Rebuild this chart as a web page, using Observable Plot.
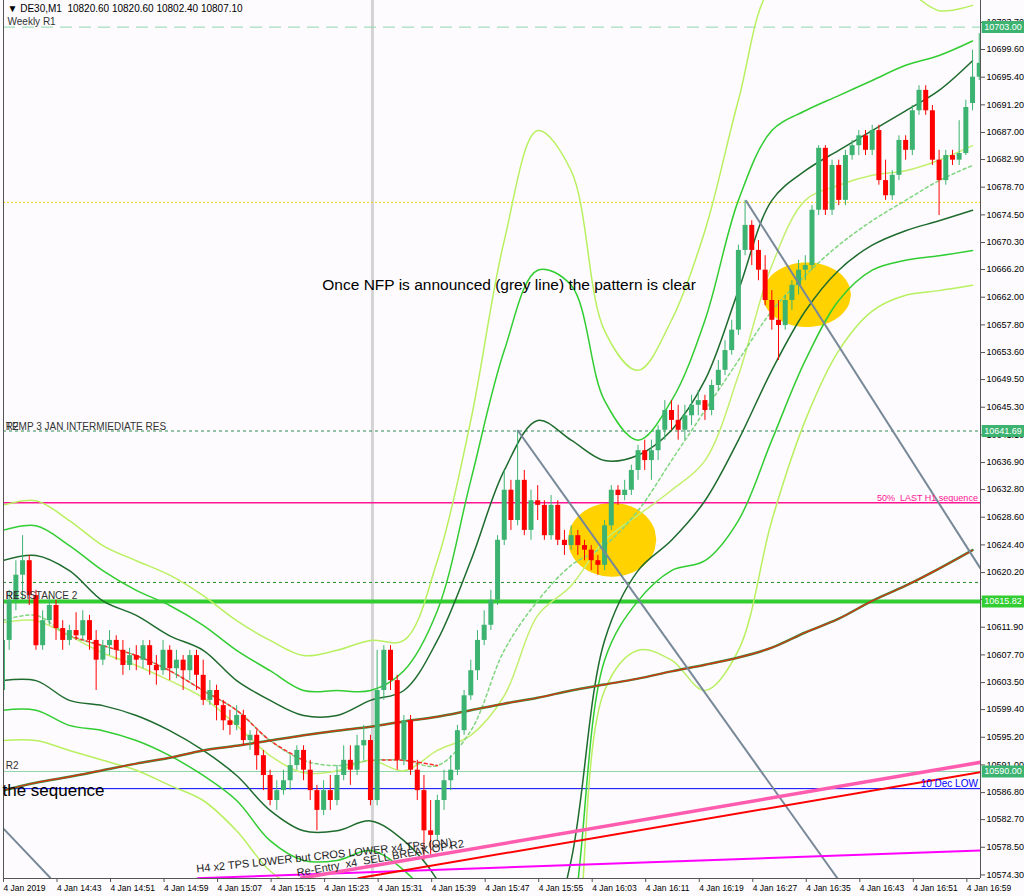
<!DOCTYPE html>
<html><head><meta charset="utf-8">
<script src="https://cdn.jsdelivr.net/npm/d3@7"></script>
<script src="https://cdn.jsdelivr.net/npm/@observablehq/plot@0.6"></script>
<style>
body{margin:0;background:#fdfbfd;}
#chart svg text{font-family:"Liberation Sans",Arial,sans-serif;}
</style></head><body><div id="chart"></div>
<script>
// ---------- DATA ----------
const headerText = "\u25BC DE30,M1  10820.60 10820.60 10802.40 10807.10";
const xTickIndex = [0,8,16,24,32,40,48,56,64,72,80,88,96,104,112,120,128,136,144];
const xTickLabels = ["4 Jan 2019","4 Jan 14:43","4 Jan 14:51","4 Jan 14:59","4 Jan 15:07","4 Jan 15:15","4 Jan 15:23","4 Jan 15:31","4 Jan 15:39","4 Jan 15:47","4 Jan 15:55","4 Jan 16:03","4 Jan 16:11","4 Jan 16:19","4 Jan 16:27","4 Jan 16:35","4 Jan 16:43","4 Jan 16:51","4 Jan 16:59"];
const yTicks = [10574.30,10578.50,10582.70,10586.80,10591.00,10595.20,10599.40,10603.50,10607.70,10611.90,10616.10,10620.20,10624.40,10628.60,10632.80,10636.90,10641.10,10645.30,10649.50,10653.60,10657.80,10662.00,10666.20,10670.30,10674.50,10678.70,10682.90,10687.00,10691.20,10695.40,10699.60,10703.70];

const opens = [10602.3,10609.9,10616.0,10619.8,10622.0,10616.7,10609.1,10612.9,10615.2,10611.7,10609.9,10611.4,10610.6,10612.9,10609.9,10606.9,10609.1,10609.9,10608.4,10606.1,10607.6,10606.9,10609.1,10606.1,10605.3,10608.4,10605.6,10606.9,10605.3,10607.6,10604.6,10600.8,10602.3,10600.0,10597.7,10597.0,10598.5,10594.7,10595.5,10592.4,10589.4,10585.6,10587.1,10588.6,10590.9,10593.2,10590.2,10587.1,10584.1,10587.1,10585.6,10589.4,10591.7,10590.2,10593.9,10594.7,10585.6,10602.3,10608.4,10603.8,10591.7,10597.7,10590.2,10587.1,10581.0,10580.3,10585.6,10588.6,10590.2,10596.2,10601.5,10605.3,10609.9,10612.2,10616.0,10625.1,10632.7,10628.1,10634.2,10626.6,10631.1,10630.4,10625.8,10630.4,10625.1,10624.3,10625.8,10624.3,10623.6,10622.0,10621.3,10627.3,10632.7,10631.9,10632.7,10635.7,10638.7,10637.2,10638.7,10641.8,10644.8,10643.3,10641.8,10644.0,10645.6,10646.3,10644.8,10648.6,10650.9,10653.9,10657.0,10669.1,10672.9,10669.1,10666.1,10661.5,10658.5,10657.7,10661.5,10663.8,10666.1,10666.8,10675.2,10684.6,10675.2,10682.0,10676.7,10683.5,10685.0,10686.5,10684.3,10687.3,10679.7,10677.4,10680.5,10685.8,10684.3,10690.3,10693.4,10690.3,10682.8,10679.7,10683.5,10682.8,10683.8,10691.4,10695.4];
const highs = [10612.9,10617.5,10622.0,10625.8,10622.8,10617.5,10614.4,10616.7,10616.0,10612.9,10612.2,10614.1,10614.4,10613.7,10611.4,10609.9,10611.4,10610.6,10609.9,10608.7,10609.1,10609.9,10609.9,10607.6,10609.9,10609.1,10608.4,10607.6,10608.4,10608.4,10606.9,10603.8,10603.1,10600.8,10599.3,10600.0,10599.3,10596.2,10596.2,10593.2,10590.2,10588.6,10590.2,10592.4,10593.9,10593.9,10591.7,10587.9,10588.6,10589.4,10590.9,10593.9,10593.9,10595.5,10597.0,10595.5,10608.4,10609.1,10609.1,10604.6,10598.5,10598.5,10591.7,10589.4,10585.6,10586.4,10590.2,10592.4,10597.0,10602.3,10606.9,10611.4,10614.4,10617.5,10625.8,10635.7,10634.2,10641.8,10635.7,10632.7,10633.4,10631.1,10631.9,10631.1,10626.6,10627.3,10626.6,10625.1,10624.3,10622.8,10628.1,10633.4,10633.4,10634.2,10636.5,10639.5,10640.3,10640.3,10642.5,10646.3,10646.3,10645.6,10645.6,10647.1,10647.8,10647.1,10649.4,10652.4,10655.4,10658.5,10669.9,10676.7,10673.6,10670.6,10668.3,10663.0,10661.5,10662.3,10664.5,10667.6,10668.3,10675.9,10685.0,10685.0,10682.8,10682.8,10684.3,10685.8,10687.3,10687.3,10688.1,10688.1,10682.8,10681.2,10686.5,10686.5,10691.1,10694.1,10694.1,10691.1,10684.3,10684.3,10684.3,10688.8,10691.9,10699.5,10702.0];
const lows = [10600.8,10608.4,10614.4,10616.0,10615.2,10608.4,10608.4,10612.2,10609.9,10608.4,10609.1,10609.9,10609.9,10608.4,10602.3,10606.1,10607.6,10606.9,10604.6,10605.3,10605.3,10605.6,10604.6,10603.1,10604.6,10603.8,10604.1,10602.3,10603.8,10602.3,10600.0,10600.0,10597.7,10596.2,10595.5,10596.2,10593.9,10593.2,10590.2,10587.1,10584.8,10584.1,10586.4,10587.1,10590.2,10588.6,10585.6,10581.0,10583.3,10584.1,10584.8,10588.6,10587.9,10589.4,10591.7,10584.8,10584.8,10600.8,10602.3,10590.2,10590.9,10589.4,10585.6,10576.5,10577.3,10579.5,10584.1,10587.1,10589.4,10595.5,10600.8,10603.8,10609.1,10611.4,10615.2,10624.3,10626.6,10627.3,10625.8,10625.1,10628.1,10625.1,10625.1,10624.3,10622.8,10623.6,10622.8,10622.0,10620.5,10619.8,10620.5,10626.6,10630.4,10631.1,10631.9,10634.2,10635.7,10634.2,10637.2,10640.3,10641.8,10640.3,10640.3,10642.5,10644.0,10643.3,10644.0,10647.8,10650.1,10653.2,10656.2,10668.3,10666.8,10664.5,10660.7,10657.0,10652.4,10657.0,10660.0,10662.3,10664.5,10666.1,10674.4,10674.4,10674.4,10675.9,10675.9,10682.8,10683.5,10683.5,10683.5,10679.0,10676.7,10676.7,10679.7,10682.8,10683.5,10689.6,10689.6,10682.0,10674.4,10679.0,10682.0,10682.0,10683.5,10690.3,10694.9];
const closes = [10609.9,10616.0,10619.8,10622.0,10616.7,10609.1,10612.9,10615.2,10611.7,10609.9,10611.4,10610.6,10612.9,10609.9,10606.9,10609.1,10609.9,10608.4,10606.1,10607.6,10606.9,10609.1,10606.1,10605.3,10608.4,10605.6,10606.9,10605.3,10607.6,10604.6,10600.8,10602.3,10600.0,10597.7,10597.0,10598.5,10594.7,10595.5,10592.4,10589.4,10585.6,10587.1,10588.6,10590.9,10593.2,10590.2,10587.1,10584.1,10587.1,10585.6,10589.4,10591.7,10590.2,10593.9,10594.7,10585.6,10602.3,10608.4,10603.8,10591.7,10597.7,10590.2,10587.1,10581.0,10580.3,10585.6,10588.6,10590.2,10596.2,10601.5,10605.3,10609.9,10612.2,10616.0,10625.1,10632.7,10628.1,10634.2,10626.6,10631.1,10630.4,10625.8,10630.4,10625.1,10624.3,10625.8,10624.3,10623.6,10622.0,10621.3,10627.3,10632.7,10631.9,10632.7,10635.7,10638.7,10637.2,10638.7,10641.8,10644.8,10643.3,10641.8,10644.0,10645.6,10646.3,10644.8,10648.6,10650.9,10653.9,10657.0,10669.1,10672.9,10669.1,10666.1,10661.5,10658.5,10657.7,10661.5,10663.8,10666.1,10666.8,10675.2,10684.6,10675.2,10682.0,10676.7,10683.5,10685.0,10686.5,10684.3,10687.3,10679.7,10677.4,10680.5,10685.8,10684.3,10690.3,10693.4,10690.3,10682.8,10679.7,10683.5,10682.8,10683.8,10690.8,10695.4,10697.5];

// band samples every 5 minutes (index 0,5,...,145)
const bandIndex = [0,5,10,15,20,25,30,35,40,45,50,55,60,65,70,75,80,85,90,95,100,105,110,115,120,125,130,135,140,145];
const upperOuter = [10630.4,10631.1,10628.1,10624.3,10622.0,10619.8,10616.7,10612.9,10609.9,10607.6,10608.4,10609.9,10609.9,10622.0,10643.3,10670.6,10687.3,10681.2,10656.9,10650.9,10658.5,10672.1,10691.9,10709.0,10710.0,10710.8,10710.0,10708.6,10705.5,10706.3];
const upperMid = [10626.6,10627.3,10624.3,10620.5,10617.5,10615.2,10612.2,10608.4,10605.3,10602.3,10602.3,10602.3,10605.3,10614.4,10634.2,10653.9,10666.1,10663.8,10646.3,10640.3,10646.3,10658.5,10676.7,10687.3,10690.3,10692.6,10694.9,10697.2,10698.7,10700.9];
const upperInner = [10622.0,10622.8,10620.5,10615.9,10613.7,10610.6,10608.4,10603.8,10600.8,10598.5,10598.5,10600.8,10602.3,10609.9,10622.0,10635.7,10643.3,10640.3,10637.2,10638.0,10641.8,10649.4,10663.0,10676.7,10681.2,10684.3,10687.3,10690.3,10693.4,10697.9];
const centerLine = [10612.6,10612.9,10610.6,10608.0,10606.1,10603.8,10601.2,10597.0,10592.4,10589.8,10590.1,10591.7,10590.1,10593.2,10595.5,10601.5,10613.7,10618.2,10625.1,10628.9,10632.7,10637.2,10650.1,10666.8,10676.7,10679.0,10680.5,10681.2,10682.8,10685.0];
const basis = [10612.9,10613.7,10610.6,10609.1,10607.6,10605.3,10602.3,10599.3,10594.7,10591.7,10590.9,10591.7,10591.7,10590.9,10596.2,10608.4,10615.9,10621.3,10624.3,10629.6,10637.2,10644.8,10652.4,10659.9,10665.3,10669.9,10673.6,10676.7,10679.7,10682.0];
const lowerInner = [10603.8,10603.8,10600.8,10600.0,10598.5,10596.2,10593.2,10589.4,10584.1,10581.0,10581.0,10582.5,10579.5,10573.5,10561.3,10547.7,10558.3,10576.5,10609.9,10620.5,10625.1,10631.1,10640.3,10650.9,10659.9,10666.1,10669.9,10672.1,10673.6,10675.2];
const lowerMid = [10599.3,10599.3,10597.0,10596.2,10594.7,10592.4,10589.4,10585.6,10579.5,10576.5,10576.5,10578.0,10575.0,10568.9,10555.2,10540.1,10547.7,10565.9,10606.9,10615.9,10620.5,10622.0,10628.1,10640.3,10652.4,10661.5,10666.1,10667.6,10668.3,10669.1];
const lowerOuter = [10594.7,10594.7,10593.2,10591.7,10590.2,10587.9,10585.6,10581.0,10574.9,10571.9,10571.9,10573.4,10570.4,10564.4,10547.7,10532.5,10540.1,10555.3,10602.3,10608.4,10606.9,10602.3,10608.4,10628.1,10643.3,10653.9,10659.9,10662.3,10663.0,10663.8];
const slowMA = [10587.1,10588.3,10589.2,10590.2,10591.2,10592.1,10593.2,10593.9,10594.7,10595.5,10596.2,10596.8,10597.6,10598.3,10599.3,10600.3,10601.2,10602.3,10603.2,10604.1,10605.2,10606.2,10607.3,10608.8,10611.1,10613.2,10615.9,10618.2,10620.8,10623.6];
// stretches of the middle line that are falling (drawn red)
const basisFalling = [[2,9],[11,13]];

// horizontal levels
const weeklyR1 = 10703.00;
const yellowLevel = 10676.4;
const tempRes = 10641.69;
const h1Fifty = 10630.8;
const greenDashLevel = 10618.7;
const resistance2 = 10615.82;
const r2Level = 10590.00;
const decLow = 10587.4;
const nfpIndex = 55.3;

// trend lines [x1,y1,x2,y2] in (minute index, price)
const trendGrey = [[77.0,10641.8,124.8,10573.8],[111.1,10676.7,146.2,10620.8],[-0.3,10581.8,7.2,10573.8]];
const trendPink = [44.5,10573.8,146.2,10591.4];
const trendRed = [53.1,10573.8,146.2,10589.9];
const trendMagenta = [29.1,10573.8,146.2,10578.0];

// highlight ellipses: centre index, centre price, half-width (minutes), half-height (price)
const ellipses = [[91.2,10625.1,6.6,5.6],[120.3,10662.3,6.6,4.9]];

// ---------- BUILD ----------
const candles = closes.map((c,i)=>({i,o:opens[i],h:highs[i],l:lows[i],c,up:c>=opens[i]}));
const bandRows = (arr)=>bandIndex.map((x,k)=>({x,y:arr[k]}));
const basisRed = basisFalling.map(([a,b],s)=>d3.range(a,b+1).map(k=>({s,x:bandIndex[k],y:basis[k]}))).flat();
const ellipseRows = ellipses.map(([cx,cy,rx,ry],e)=>d3.range(0,61).map(k=>{
  const t=-1+2*k/60; const dy=ry*Math.sqrt(Math.max(0,1-t*t));
  return {e,x:cx+rx*t,y1:cy-dy,y2:cy+dy};
})).flat();
const seg = (s,extra)=>Plot.link([s],{x1:d=>d[0],y1:d=>d[1],x2:d=>d[2],y2:d=>d[3],clip:true,...extra});
const boxes = [
  {v:weeklyR1,t:"10703.00",fill:"#3cb371"},
  {v:tempRes,t:"10641.69",fill:"#3cb371"},
  {v:resistance2,t:"10615.82",fill:"#32cd32"},
  {v:r2Level,t:"10590.00",fill:"#3cb371"}
];
const fmt = d3.format(".2f");
const labelOf = i => xTickLabels[xTickIndex.indexOf(i)];
const hasAxisMarks = typeof Plot.axisX === "function";

const marks = [
  Plot.areaY(ellipseRows,{x:"x",y1:"y1",y2:"y2",z:"e",fill:"#ffd200",curve:"linear",clip:true}),
  Plot.ruleX([nfpIndex],{stroke:"#d4d4d4",strokeWidth:3}),
  Plot.ruleY([weeklyR1],{stroke:"#8fd6b0",strokeDasharray:"12,7",strokeWidth:1}),
  Plot.ruleY([yellowLevel],{stroke:"#f2d200",strokeDasharray:"2,2"}),
  Plot.ruleY([tempRes],{stroke:"#2e8b57",strokeDasharray:"3,3"}),
  Plot.ruleY([h1Fifty],{stroke:"#ff1493",strokeWidth:1.5}),
  Plot.ruleY([greenDashLevel],{stroke:"#228b22",strokeDasharray:"3,3"}),
  Plot.ruleY([resistance2],{stroke:"#32cd32",strokeWidth:4}),
  Plot.ruleY([r2Level],{stroke:"#8fd6a8",strokeWidth:1.2}),
  Plot.ruleY([decLow],{stroke:"#0000ff",strokeWidth:1}),
  // bands
  Plot.line(bandRows(upperOuter),{x:"x",y:"y",stroke:"#b8f060",curve:"catmull-rom",clip:true}),
  Plot.line(bandRows(upperMid),{x:"x",y:"y",stroke:"#32cd32",curve:"catmull-rom",clip:true}),
  Plot.line(bandRows(upperInner),{x:"x",y:"y",stroke:"#1e6b2e",curve:"catmull-rom",clip:true}),
  Plot.line(bandRows(lowerInner),{x:"x",y:"y",stroke:"#1e6b2e",curve:"catmull-rom",clip:true}),
  Plot.line(bandRows(lowerMid),{x:"x",y:"y",stroke:"#32cd32",curve:"catmull-rom",clip:true}),
  Plot.line(bandRows(lowerOuter),{x:"x",y:"y",stroke:"#b8f060",curve:"catmull-rom",clip:true}),
  Plot.line(bandRows(centerLine),{x:"x",y:"y",stroke:"#c4f070",curve:"catmull-rom",clip:true}),
  Plot.line(bandRows(basis),{x:"x",y:"y",stroke:"#7fd67f",strokeDasharray:"3,3",curve:"catmull-rom",clip:true}),
  Plot.line(basisRed,{x:"x",y:"y",z:"s",stroke:"#ff3030",strokeDasharray:"3,3",curve:"catmull-rom",clip:true}),
  Plot.line(bandRows(slowMA),{x:"x",y:"y",stroke:"#3a8a3a",strokeWidth:2.5,curve:"catmull-rom",clip:true}),
  Plot.line(bandRows(slowMA),{x:"x",y:"y",stroke:"#e03010",strokeWidth:1.2,curve:"catmull-rom",clip:true}),
  // candles
  Plot.ruleX(candles,{x:"i",y1:"l",y2:"h",stroke:d=>d.up?"#3cb371":"#ff0000",strokeWidth:1,clip:true}),
  Plot.ruleX(candles,{x:"i",y1:"o",y2:"c",stroke:d=>d.up?"#3cb371":"#ff0000",strokeWidth:5,clip:true}),
  // trend lines
  ...trendGrey.map(s=>seg(s,{stroke:"#778899",strokeWidth:2})),
  seg(trendMagenta,{stroke:"#ff00ff",strokeWidth:2}),
  seg(trendRed,{stroke:"#ff0000",strokeWidth:2}),
  seg(trendPink,{stroke:"#ff5cb0",strokeWidth:3.5}),
  // frame lines
  Plot.ruleX([0.15],{stroke:"#555"}),
  Plot.ruleX([146.19],{stroke:"#555"}),
  Plot.ruleY([10573.76],{stroke:"#555"}),
  // texts
  Plot.text([headerText],{frameAnchor:"top-left",dx:4,dy:4,text:d=>d,fontSize:10,fill:"#000"}),
  Plot.text(["Weekly R1"],{frameAnchor:"top-left",dx:4,dy:17,text:d=>d,fontSize:10,fill:"#333"}),
  Plot.text([{x:0.5,y:10642.4,t:"R2"},{x:0.5,y:10642.4,t:"TEMP 3 JAN INTERMIEDIATE RES"}],{x:"x",y:"y",text:"t",textAnchor:"start",fontSize:10,fill:"#333"}),
  Plot.text([{x:0.5,y:10616.7,t:"R1"},{x:0.5,y:10616.7,t:"RESISTANCE 2"}],{x:"x",y:"y",text:"t",textAnchor:"start",fontSize:10,fill:"#333"}),
  Plot.text([{x:0.5,y:10590.8,t:"R2"}],{x:"x",y:"y",text:"t",textAnchor:"start",fontSize:10,fill:"#333"}),
  Plot.text([{x:145.8,y:10631.5,t:"50%  LAST H1 sequence"}],{x:"x",y:"y",text:"t",textAnchor:"end",fontSize:9,fill:"#ff1493"}),
  Plot.text([{x:145.8,y:10588.1,t:"10 Dec LOW"}],{x:"x",y:"y",text:"t",textAnchor:"end",fontSize:10,fill:"#0000ff"}),
  Plot.text([{x:0,y:10587.1,t:"the sequence"}],{x:"x",y:"y",text:"t",textAnchor:"start",fontSize:17,fill:"#000"}),
  Plot.text([{x:47.8,y:10663.9,t:"Once NFP is announced (grey line) the pattern is clear"}],{x:"x",y:"y",text:"t",textAnchor:"start",fontSize:15.5,fill:"#000"}),
  Plot.text([{x:29.0,y:10575.2,t:"H4 x2 TPS LOWER but CROS LOWER x4 TPs (ON)"}],{x:"x",y:"y",text:"t",textAnchor:"start",fontSize:11,rotate:-6,fill:"#222"}),
  Plot.text([{x:44.0,y:10574.6,t:"Re-Entry  x4  SELL BREAK OF R2"}],{x:"x",y:"y",text:"t",textAnchor:"start",fontSize:11,rotate:-10,fill:"#222"})
];
if (hasAxisMarks) {
  marks.push(
    Plot.axisX(xTickIndex,{anchor:"bottom",tickSize:4,tickPadding:2,textAnchor:"start",dx:1,tickFormat:labelOf,label:null,fontSize:8.5,stroke:"#555",fill:"#000"}),
    Plot.axisY(yTicks,{anchor:"right",tickSize:4,tickPadding:2,tickFormat:fmt,label:null,fontSize:9,stroke:"#555",fill:"#000"})
  );
}
// axis value boxes drawn last so they cover the tick labels
marks.push(
  Plot.ruleY(boxes,{y:"v",x1:146.45,x2:153.5,stroke:"fill",strokeWidth:12}),
  Plot.text(boxes,{y:"v",x:146.75,text:"t",textAnchor:"start",fill:"#fff",fontSize:9})
);
const chart = Plot.plot({
  width:1024,height:896,
  marginLeft:3,marginRight:44,marginTop:0,marginBottom:18,
  style:{background:"#fdfbfd",fontFamily:"Liberation Sans, Arial, sans-serif",fontSize:"10px",overflow:"visible"},
  x: hasAxisMarks ? {domain:[0.15,146.19],axis:null} : {domain:[0.15,146.19],axis:"bottom",ticks:xTickIndex,tickFormat:labelOf,tickSize:4,label:null},
  y: hasAxisMarks ? {domain:[10573.76,10707.04],axis:null} : {domain:[10573.76,10707.04],axis:"right",ticks:yTicks,tickFormat:fmt,tickSize:4,label:null},
  marks
});
document.getElementById("chart").appendChild(chart);
</script></body></html>
